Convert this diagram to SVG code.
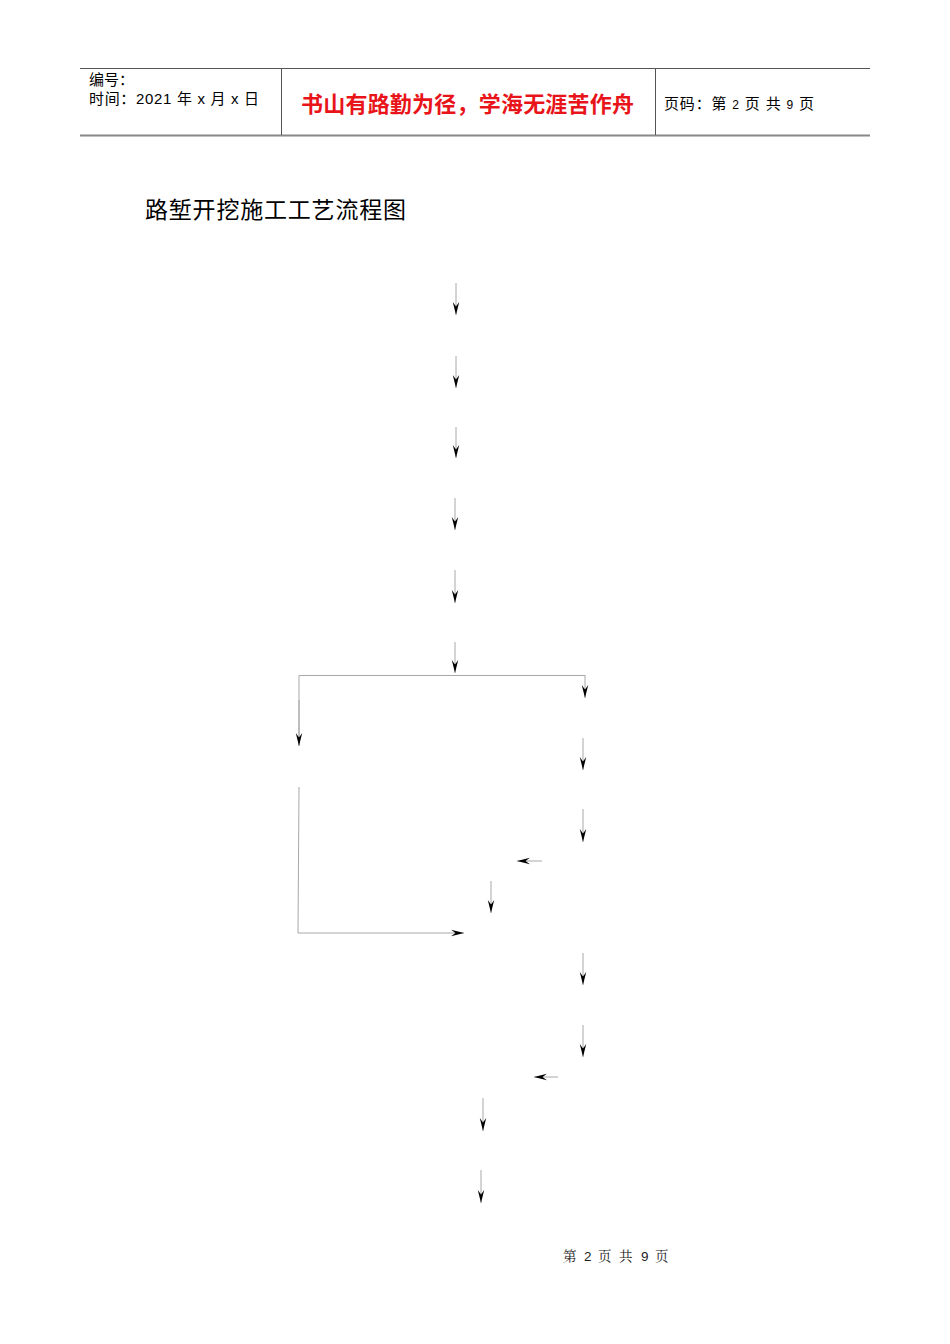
<svg xmlns="http://www.w3.org/2000/svg" width="950" height="1344" viewBox="0 0 950 1344">
<style>
.hd{font-family:"Liberation Sans","Noto Sans CJK SC",sans-serif;font-size:15px;fill:#000}
.red{font-family:"Noto Sans CJK SC",sans-serif;font-size:22px;font-weight:bold;fill:#e8141a}
.title{font-family:"Noto Sans CJK SC",sans-serif;font-size:23px;fill:#000}
.ft{font-family:"Noto Serif CJK SC","Noto Sans CJK SC",serif;font-size:13.5px;fill:#222}
.c{stroke:#a8a8a8;stroke-width:1;fill:none}
.c2{stroke:#a8a8a8;stroke-width:1;fill:none;marker-end:url(#ah)}
</style>
<defs>
<marker id="ah" markerUnits="userSpaceOnUse" markerWidth="14" markerHeight="8" refX="13" refY="4" orient="auto" viewBox="0 0 14 8">
<path d="M0,0.8 L13,4 L0,7.2 L4.5,4 Z" fill="#000"/>
</marker>
</defs>
<rect width="950" height="1344" fill="#fff"/>
<g id="header">
<line x1="80" y1="68.5" x2="870" y2="68.5" stroke="#555" stroke-width="1"/>
<line x1="80" y1="135.5" x2="870" y2="135.5" stroke="#888" stroke-width="2"/>
<line x1="281.5" y1="68" x2="281.5" y2="135" stroke="#555" stroke-width="1"/>
<line x1="655.5" y1="68" x2="655.5" y2="135" stroke="#555" stroke-width="1"/>
<text class="hd" x="89" y="85">编号：</text>
<text class="hd" x="89" y="104" textLength="170" lengthAdjust="spacing">时间：2021 年 x 月 x 日</text>
<text class="red" x="301" y="112" textLength="333" lengthAdjust="spacing">书山有路勤为径，学海无涯苦作舟</text>
<text class="hd" x="664" y="109" textLength="150" lengthAdjust="spacing">页码：第 <tspan font-size="12">2</tspan> 页  共 <tspan font-size="12">9</tspan> 页</text>
</g>
<g id="title"><text class="title" x="145" y="218" textLength="261" lengthAdjust="spacing">路堑开挖施工工艺流程图</text></g>
<g id="connectors">
<line class="c2" x1="456" y1="283" x2="456" y2="315"/>
<line class="c2" x1="456" y1="356" x2="456" y2="388"/>
<line class="c2" x1="456" y1="427" x2="456" y2="458"/>
<line class="c2" x1="455" y1="498" x2="455" y2="530"/>
<line class="c2" x1="455" y1="570" x2="455" y2="603"/>
<line class="c2" x1="455" y1="642" x2="455" y2="673"/>
<polyline class="c" points="299,746 299,675.5 585,675.5"/>
<line class="c2" x1="299" y1="700" x2="299" y2="746"/>
<line class="c2" x1="585" y1="675" x2="585" y2="698"/>
<line class="c2" x1="583" y1="738" x2="583" y2="770"/>
<line class="c2" x1="583" y1="809" x2="583" y2="842"/>
<line class="c2" x1="542" y1="861" x2="517" y2="861"/>
<line class="c2" x1="491" y1="881" x2="491" y2="913"/>
<polyline class="c2" points="299,787 298,933 464,933"/>
<line class="c2" x1="583" y1="953" x2="583" y2="985"/>
<line class="c2" x1="583" y1="1025" x2="583" y2="1057"/>
<line class="c2" x1="558" y1="1077" x2="534" y2="1077"/>
<line class="c2" x1="483" y1="1098" x2="483" y2="1131"/>
<line class="c2" x1="481" y1="1170" x2="481" y2="1203"/>
</g>
<g id="footer"><text class="ft" y="1261"><tspan x="563">第</tspan><tspan x="584" font-family="Liberation Sans">2</tspan><tspan x="598">页</tspan><tspan x="619">共</tspan><tspan x="641" font-family="Liberation Sans">9</tspan><tspan x="655">页</tspan></text></g>
</svg>
